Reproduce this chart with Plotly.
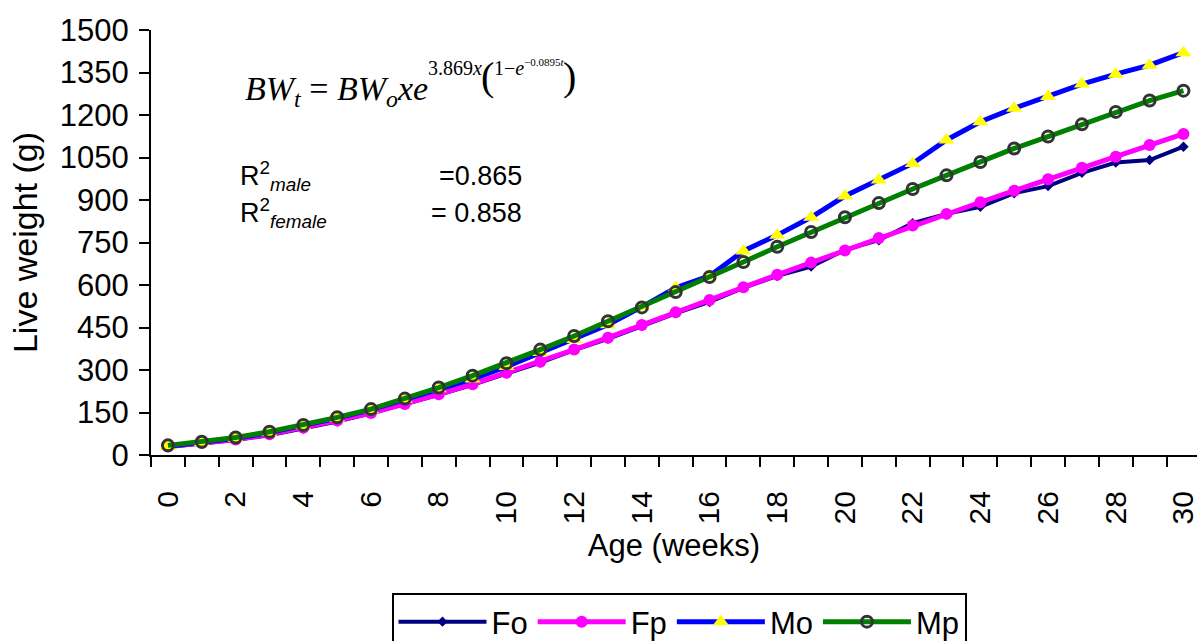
import plotly.graph_objects as go

weeks = list(range(31))
Fo = [28, 40, 53, 70, 93, 118, 147, 178, 212, 248, 288, 326, 370, 410, 455, 500,
      540, 590, 632, 665, 724, 758, 818, 851, 876, 924, 949, 996, 1032, 1041, 1088]
Fp = [30, 42, 55, 73, 96, 122, 148, 180, 214, 250, 290, 329, 372, 414, 459, 504,
      547, 592, 636, 679, 722, 766, 810, 851, 892, 933, 973, 1014, 1053, 1094, 1133]
Mo = [31, 44, 59, 79, 103, 130, 160, 197, 234, 268, 312, 362, 408, 460, 523, 590,
      632, 720, 776, 839, 914, 971, 1029, 1112, 1176, 1224, 1265, 1309, 1344, 1376, 1420]
Mp = [34, 47, 62, 82, 106, 133, 162, 199, 238, 280, 324, 372, 420, 472, 521, 575,
      628, 681, 735, 787, 839, 889, 939, 987, 1034, 1082, 1124, 1167, 1211, 1251, 1286]
x_ticks = list(range(0, 31, 2))
y_ticks = list(range(0, 1501, 150))

W, H = 1197, 641
L, R, T, B = 151, 0, 30, 186
PW, PH = W - L - R, H - T - B


def px(x):
    return (x - L) / PW


def py(y):
    return (H - B - y) / PH


SANS = "Liberation Sans, Arial, sans-serif"
SERIF = "Liberation Serif, Times New Roman, serif"

fig = go.Figure()
fig.add_trace(go.Scatter(x=weeks, y=Fo, name="Fo", mode="lines+markers",
                         line=dict(color="#000080", width=4),
                         marker=dict(symbol="diamond", size=8, color="#000080")))
fig.add_trace(go.Scatter(x=weeks, y=Fp, name="Fp", mode="lines+markers",
                         line=dict(color="#FF00FF", width=5),
                         marker=dict(symbol="circle", size=12, color="#FF00FF")))
fig.add_trace(go.Scatter(x=weeks, y=Mo, name="Mo", mode="lines+markers",
                         line=dict(color="#0000FF", width=5),
                         marker=dict(symbol="triangle-up", size=14, color="#FFFF00")))
fig.add_trace(go.Scatter(x=weeks, y=Mp, name="Mp", mode="lines+markers",
                         line=dict(color="#008000", width=5),
                         marker=dict(symbol="circle-open", size=11, color="#333333",
                                     line=dict(width=3, color="#333333"))))

ann = []
# equation
ann.append(dict(text="<i>BW</i><sub><i>t</i></sub> = <i>BW</i><sub><i>o</i></sub><i>xe</i>",
                x=px(243), y=py(91), xanchor="left", yanchor="middle",
                font=dict(family=SERIF, size=34, color="black")))
ann.append(dict(text="3.869<i>x</i>", x=px(426), y=py(68), xanchor="left", yanchor="middle",
                font=dict(family=SERIF, size=20, color="black")))
ann.append(dict(text="(", x=px(479), y=py(76), xanchor="left", yanchor="middle",
                font=dict(family=SERIF, size=40, color="black")))
ann.append(dict(text="1\u2212<i>e</i>", x=px(492), y=py(68), xanchor="left", yanchor="middle",
                font=dict(family=SERIF, size=20, color="black")))
ann.append(dict(text="\u22120.0895<i>t</i>", x=px(522), y=py(62), xanchor="left", yanchor="middle",
                font=dict(family=SERIF, size=11, color="black")))
ann.append(dict(text=")", x=px(561), y=py(76), xanchor="left", yanchor="middle",
                font=dict(family=SERIF, size=40, color="black")))
# R^2
ann.append(dict(text="R<sup>2</sup><sub><i>male</i></sub>", x=px(238), y=py(176),
                xanchor="left", yanchor="middle", font=dict(family=SANS, size=27, color="black")))
ann.append(dict(text="=0.865", x=px(524), y=py(176),
                xanchor="right", yanchor="middle", font=dict(family=SANS, size=27, color="black")))
ann.append(dict(text="R<sup>2</sup><sub><i>female</i></sub>", x=px(238), y=py(213),
                xanchor="left", yanchor="middle", font=dict(family=SANS, size=27, color="black")))
ann.append(dict(text="= 0.858", x=px(524), y=py(213),
                xanchor="right", yanchor="middle", font=dict(family=SANS, size=27, color="black")))
for a in ann:
    a.update(xref="paper", yref="paper", showarrow=False)

fig.update_layout(
    width=W, height=H,
    margin=dict(l=L, r=R, t=T, b=B, pad=0, autoexpand=False),
    paper_bgcolor="white", plot_bgcolor="white",
    font=dict(family=SANS, color="black"),
    annotations=ann,
    showlegend=True,
    legend=dict(orientation="h", x=px(679), xanchor="center", y=py(593), yanchor="top",
                bordercolor="black", borderwidth=2, bgcolor="white",
                font=dict(family=SANS, size=31, color="black"),
                itemwidth=88, tracegroupgap=0),
    xaxis=dict(range=[-0.5, 30.4], tickmode="array", tickvals=x_ticks,
               ticktext=[str(v) for v in x_ticks], tickangle=-90,
               ticks="outside", ticklen=10, tickcolor="rgba(0,0,0,0)",
               ticklabelstandoff=12, ticklabeloverflow="allow", automargin=False,
               minor=dict(tick0=-0.5, dtick=1, ticks="outside", ticklen=10,
                          tickwidth=2, tickcolor="black", showgrid=False),
               showline=True, linecolor="black", linewidth=2, showgrid=False,
               zeroline=False, tickfont=dict(size=30),
               title=dict(text="Age (weeks)", font=dict(size=31), standoff=11)),
    yaxis=dict(range=[0, 1500], tickmode="array", tickvals=y_ticks,
               ticks="outside", ticklen=10, tickwidth=2, tickcolor="black",
               showline=True, linecolor="black", linewidth=2, showgrid=False,
               zeroline=False, tickfont=dict(size=31), ticklabelstandoff=4,
               automargin=False,
               title=dict(text="Live weight (g)", font=dict(size=34), standoff=12)),
)

fig.write_html("out.html")
